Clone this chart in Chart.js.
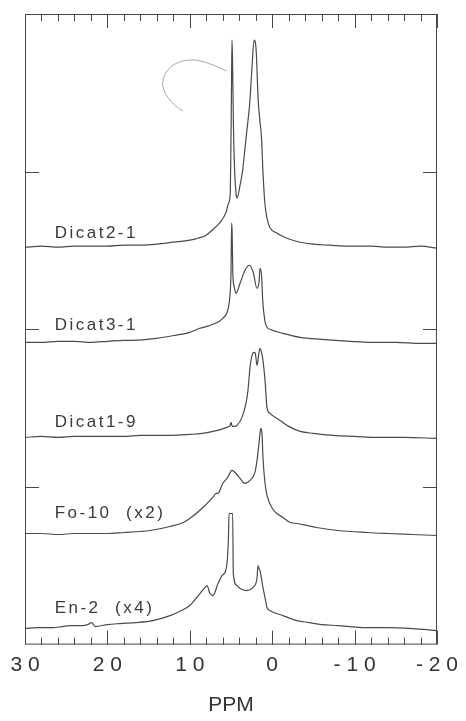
<!DOCTYPE html>
<html>
<head>
<meta charset="utf-8">
<title>PPM spectra</title>
<script src="https://cdn.jsdelivr.net/npm/chart.js@4/dist/chart.umd.min.js"></script>
<style>
  html, body { margin: 0; padding: 0; background: #fff; }
  #wrap { width: 466px; height: 721px; }
</style>
</head>
<body>
<div id="wrap"><canvas id="nmrChart" width="466" height="721"></canvas></div>
<script>
// Tick labels of the shift axis (ppm)
const ppmTicks = [30, 20, 10, 0, -10, -20];

// Sample names, from top to bottom
const spectrumLabels = ['Dicat2-1', 'Dicat3-1', 'Dicat1-9', 'Fo-10  (x2)', 'En-2  (x4)'];

// Vertical offset of every trace (arbitrary intensity units, axis 0..630)
const baselines = [397, 302, 207, 111, 16];

// Dicat2-1
const dicat21Ppm = [30, 28, 26, 24, 22, 20, 18, 16, 14, 12, 10, 9, 8, 7.3, 6.3, 5.6, 5.3, 5.08, 4.95, 4.88, 4.82, 4.7, 4.55, 4.4, 4.27, 3.9, 3.6, 3.2, 2.7, 2.45, 2.2, 1.95, 1.7, 1.5, 1.3, 1.12, 0.9, 0.63, 0.3, -0.6, -1.8, -3.4, -5, -7, -9.5, -12, -14, -16, -18, -20];
const dicat21Int = [0, 1, 0, 1, 1, 1, 2, 2, 3, 5, 7, 9, 12, 17, 25, 35, 44, 55, 150, 207, 190, 120, 75, 55, 49, 62, 76, 107, 147, 180, 207, 197, 147, 127, 110, 75, 45, 29, 20, 14, 9, 5, 3, 2, 1, 1, 0, 0, 1, -1];

// Dicat3-1
const dicat31Ppm = [30, 28, 26, 24, 22, 20, 18, 16.9, 14, 11.8, 10, 8.8, 7.5, 6, 5.4, 5.15, 5.0, 4.92, 4.86, 4.78, 4.6, 4.4, 3.9, 3.3, 2.8, 2.3, 1.85, 1.6, 1.48, 1.3, 1.15, 0.9, 0.63, 0.27, -1.3, -3.4, -6, -9.5, -12, -15, -18, -20];
const dicat31Int = [0, 0, 1, 1, 0, 1, 2, 2, 4, 7, 10, 14, 17, 24, 32, 45, 70, 119, 110, 69, 55, 49, 59, 72, 77, 70, 54, 60, 74, 68, 42, 22, 15, 13, 9, 5, 3, 1, 0, 0, -1, -1];

// Dicat1-9
const dicat19Ppm = [30, 28, 26, 24, 22, 20, 18, 16, 14, 12.4, 10, 8.5, 7.2, 6.2, 5.5, 5.1, 5.0, 4.85, 4.6, 4.27, 3.67, 3.18, 2.94, 2.69, 2.45, 2.2, 2.05, 1.84, 1.65, 1.48, 1.3, 1.12, 0.87, 0.63, 0.27, -0.95, -2, -3.4, -5, -7.4, -10, -13, -16, -20];
const dicat19Int = [0, 1, 0, 1, 1, 1, 1, 2, 2, 2, 3, 4, 6, 8, 10, 12, 15, 11, 11, 12, 20, 34, 47, 70, 82, 85, 84, 72, 82, 89, 85, 77, 57, 30, 24, 17, 11, 6, 4, 2, 1, 0, 0, -1];

// Fo-10 (x2)
const fo10Ppm = [30, 28, 26, 24, 22, 20, 18, 16, 14.8, 12.4, 10.8, 10, 8.4, 7.2, 6.8, 6.6, 6.0, 5.4, 4.9, 4.5, 3.9, 3.3, 2.7, 2.1, 1.84, 1.6, 1.48, 1.36, 1.24, 1.12, 0.87, 0.63, -0.1, -1.3, -2.2, -3.0, -5.4, -8, -11.5, -14, -17, -20];
const fo10Int = [0, 0, -1, 0, 0, 0, 1, 2, 3, 7, 11, 15, 26, 36, 40, 40, 50, 56, 63, 61, 55, 50, 53, 61, 73, 90, 100, 105, 100, 76, 50, 38, 24, 16, 11, 10, 6, 3, 1, 0, -1, -2];

// En-2 (x4)
const en2Ppm = [30, 28.5, 26.6, 25.5, 24.5, 23, 22.4, 21.9, 21.5, 20, 18.5, 16.5, 14.5, 12.4, 11, 10, 8.76, 8.16, 7.91, 7.55, 7.18, 6.58, 6.09, 5.73, 5.49, 5.32, 5.24, 4.8, 4.72, 4.27, 3.91, 3.06, 2.33, 1.95, 1.84, 1.72, 1.6, 1.48, 1.12, 0.87, 0.63, 0.27, -1.31, -3.0, -4.5, -6, -8, -9.4, -11, -14, -17, -20];
const en2Int = [0, 1, 1, 2, 3, 3, 4, 6, 2, 4, 5, 6, 8, 13, 18, 23, 35, 41, 43, 35, 33, 45, 53, 56, 65, 88, 115, 115, 55, 43, 40, 38, 41, 46, 51, 63, 60, 58, 41, 31, 21, 18, 13, 8, 6, 4, 3, 2, 1, 1, 0, -2];

// Hand-drawn pen stroke near the top trace
const penPpm = [5.52, 7.18, 8.76, 9.98, 11.55, 12.65, 13.25, 13.13, 12.4, 11.55, 10.83];
const penInt = [573, 579, 583, 584, 581, 574, 564, 554, 544, 537, 533];

// Positions of the tick marks on the frame
const majorPpm = [30, 20, 10, 0, -10, -20];
const minorPpm = [28, 26, 24, 22, 18, 16, 14, 12, 8, 6, 4, 2, -2, -4, -6, -8, -12, -14, -16, -18];
const sideTicks = [157.5, 315, 472.5];

const spectraPpm = [dicat21Ppm, dicat31Ppm, dicat19Ppm, fo10Ppm, en2Ppm];
const spectraInt = [dicat21Int, dicat31Int, dicat19Int, fo10Int, en2Int];

const lineColor = '#4a4a4a';
const frameColor = '#484848';

const datasets = spectraPpm.map((ppm, i) => ({
    label: spectrumLabels[i],
    data: ppm.map((p, j) => ({ x: p, y: baselines[i] + spectraInt[i][j] })),
    borderColor: lineColor,
    borderWidth: 1.2,
    pointRadius: 0,
    fill: false,
    cubicInterpolationMode: 'monotone'
}));

datasets.push({
    label: 'pen',
    data: penPpm.map((p, j) => ({ x: p, y: penInt[j] })),
    borderColor: '#a8a8a8',
    borderWidth: 1,
    pointRadius: 0,
    fill: false,
    tension: 0.45
});

// Sample names above each trace, then the frame with inward ticks
const overlayPlugin = {
    id: 'traceOverlay',
    afterDatasetsDraw(chart, args, opts) {
        const ctx = chart.ctx;
        const area = chart.chartArea;
        const xs = chart.scales.x;
        const ys = chart.scales.y;

        ctx.save();
        ctx.font = '17px "Liberation Sans", Arial, sans-serif';
        ctx.fillStyle = '#3a3a3a';
        ctx.textBaseline = 'alphabetic';
        ctx.textAlign = 'left';
        if ('letterSpacing' in ctx) ctx.letterSpacing = '2.5px';
        spectrumLabels.forEach((txt, i) => {
            const px = xs.getPixelForValue(opts.ppm);
            const py = ys.getPixelForValue(baselines[i] + opts.lift[i]);
            ctx.fillText(txt, px, py);
        });
        ctx.restore();

        ctx.save();
        ctx.strokeStyle = frameColor;
        ctx.lineWidth = 1;
        ctx.strokeRect(area.left + 0.5, area.top + 0.5, area.right - area.left - 1, area.bottom - area.top - 1);

        // major every 10 ppm, minor every 2 ppm, top and bottom
        const xTick = (v, len) => {
            const px = Math.round(xs.getPixelForValue(v)) + 0.5;
            ctx.beginPath();
            ctx.moveTo(px, area.top);
            ctx.lineTo(px, area.top + len);
            ctx.moveTo(px, area.bottom);
            ctx.lineTo(px, area.bottom - len);
            ctx.stroke();
        };
        majorPpm.forEach(v => xTick(v, 14));
        minorPpm.forEach(v => xTick(v, 7));

        sideTicks.forEach(v => {
            const py = Math.round(ys.getPixelForValue(v)) + 0.5;
            ctx.beginPath();
            ctx.moveTo(area.left, py);
            ctx.lineTo(area.left + 14, py);
            ctx.moveTo(area.right, py);
            ctx.lineTo(area.right - 14, py);
            ctx.stroke();
        });
        ctx.restore();
    }
};

new Chart(document.getElementById('nmrChart'), {
    type: 'line',
    data: { datasets: datasets },
    options: {
        responsive: false,
        animation: false,
        layout: { padding: { left: 25, right: 29, top: 14, bottom: 0 } },
        plugins: {
            legend: { display: false },
            tooltip: { enabled: false },
            traceOverlay: { ppm: 26.4, lift: [9, 12, 10, 15, 16] }
        },
        scales: {
            x: {
                type: 'linear',
                reverse: true,
                min: -20,
                max: 30,
                grid: { display: false, drawTicks: false },
                border: { display: false },
                afterBuildTicks: (scale) => {
                    scale.ticks = ppmTicks.map(v => ({ value: v }));
                },
                ticks: {
                    padding: 8,
                    maxRotation: 0,
                    autoSkip: false,
                    color: '#333',
                    font: { family: '"Liberation Sans", Arial, sans-serif', size: 21 },
                    callback: (v) => String(v).split('').join(' ')
                },
                title: {
                    display: true,
                    text: 'PPM',
                    color: '#333',
                    font: { family: '"Liberation Sans", Arial, sans-serif', size: 21 },
                    padding: { top: 7, bottom: 3 }
                }
            },
            y: {
                type: 'linear',
                display: false,
                min: 0,
                max: 630
            }
        }
    },
    plugins: [overlayPlugin]
});
</script>
</body>
</html>
